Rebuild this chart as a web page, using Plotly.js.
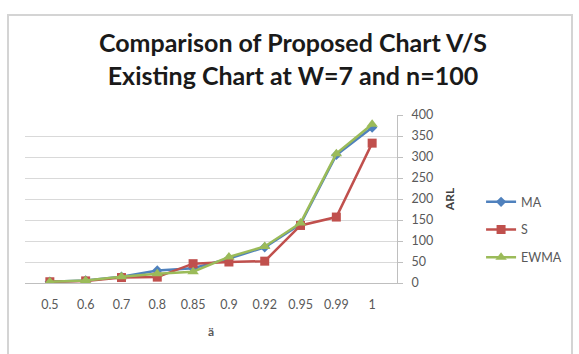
<!DOCTYPE html>
<html>
<head>
<meta charset="utf-8">
<script src="https://cdn.plot.ly/plotly-3.0.1.min.js"></script>
<style>
  html, body { margin: 0; padding: 0; background: #ffffff; }
  #wrap { position: relative; width: 579px; height: 354px; }
  #chart { width: 579px; height: 354px; }
  #frame {
    position: absolute; left: 7px; top: 14px; width: 566px; height: 350px;
    border: 2px solid #d4d4d4; box-sizing: border-box; pointer-events: none;
  }
</style>
</head>
<body>
<div id="wrap">
  <div id="chart"></div>
  <div id="frame"></div>
</div>
<script>
// δ values (category axis)
const deltaLabels = ['0.5', '0.6', '0.7', '0.8', '0.85', '0.9', '0.92', '0.95', '0.99', '1'];

// ARL for each chart
const arlMA   = [3, 6, 15, 30, 35, 58, 85, 140, 305, 370];
const arlS    = [3, 5, 13, 14, 46, 50, 52, 137, 157, 333];
const arlEWMA = [3, 6, 15, 22, 27, 62, 87, 143, 308, 378];

const seriesNames = ['MA', 'S', 'EWMA'];

const font = 'Lato, "Open Sans", sans-serif';

const traces = [
  {
    x: deltaLabels, y: arlMA, name: seriesNames[0], legendgroup: 'a',
    type: 'scatter', mode: 'lines+markers',
    line: { color: '#4F81BD', width: 2.5 },
    marker: { symbol: 'diamond', size: 8, color: '#4F81BD' }
  },
  {
    x: deltaLabels, y: arlS, name: seriesNames[1], legendgroup: 'b',
    type: 'scatter', mode: 'lines+markers',
    line: { color: '#C0504D', width: 2.5 },
    marker: { symbol: 'square', size: 9, color: '#C0504D' }
  },
  {
    x: deltaLabels, y: arlEWMA, name: seriesNames[2], legendgroup: 'c',
    type: 'scatter', mode: 'lines+markers',
    line: { color: '#9BBB59', width: 2.5 },
    marker: { symbol: 'triangle-up', size: 10, color: '#9BBB59' }
  }
];

const layout = {
  width: 579, height: 354,
  margin: { l: 25, r: 182, t: 115, b: 71 },
  paper_bgcolor: '#ffffff', plot_bgcolor: '#ffffff',
  font: { family: font, size: 12, color: '#595959' },
  title: {
    text: 'Comparison of Proposed Chart V/S<br>Existing Chart at W=7 and n=100',
    font: { family: font, size: 25, color: '#1a1a1a', weight: 'bold' },
    xref: 'container', x: 0.506, xanchor: 'center',
    yref: 'container', y: 0.853, yanchor: 'middle'
  },
  xaxis: {
    type: 'category',
    showgrid: false, zeroline: false,
    showline: true, linecolor: '#bfbfbf', linewidth: 1,
    ticks: '', ticklabelstandoff: 10,
    tickfont: { family: font, size: 12.5, color: '#595959' },
    title: { text: 'ä', font: { family: font, size: 12, color: '#595959', weight: 'bold' }, standoff: 16 }
  },
  yaxis: {
    side: 'right', range: [0, 400], dtick: 50,
    showgrid: true, gridcolor: '#d9d9d9', gridwidth: 1,
    zeroline: false,
    showline: true, linecolor: '#bfbfbf', linewidth: 1,
    ticks: 'outside', ticklen: 5, tickcolor: '#bfbfbf',
    ticklabelstandoff: 6,
    tickfont: { family: font, size: 12.5, color: '#595959' },
    title: { text: 'ARL', font: { family: font, size: 12, color: '#404040', weight: 'bold' }, standoff: 13 }
  },
  legend: {
    x: 1.226, xanchor: 'left', y: 0.57, yanchor: 'top',
    tracegroupgap: 8.5, traceorder: 'grouped',
    font: { family: font, size: 12.5, color: '#595959' },
    bgcolor: 'rgba(0,0,0,0)'
  },
  showlegend: true
};

Plotly.newPlot('chart', traces, layout, { displayModeBar: false, staticPlot: true });
</script>
</body>
</html>
